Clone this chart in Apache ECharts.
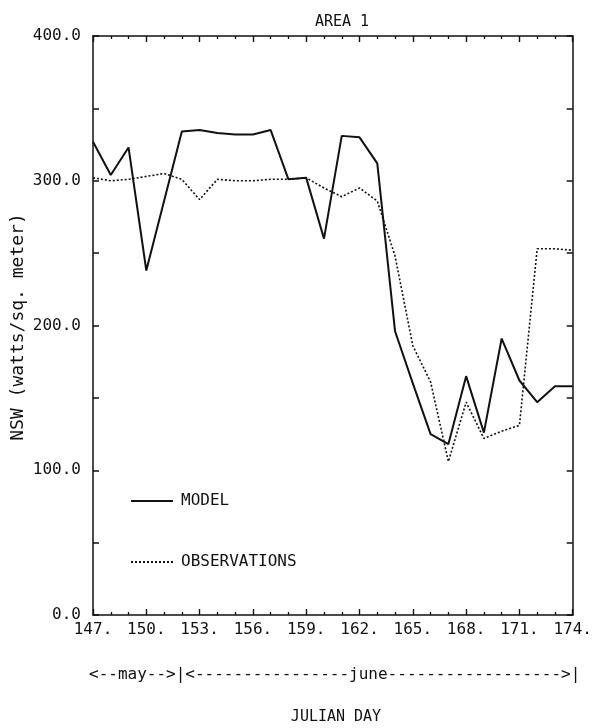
<!DOCTYPE html>
<html>
<head>
<meta charset="utf-8">
<script src="https://cdn.jsdelivr.net/npm/echarts@6/dist/echarts.min.js"></script>
<style>
html,body{margin:0;padding:0;background:#fff;}
#c{width:595px;height:728px;}
</style>
</head>
<body>
<div id="c"></div>
<script>
const days = [147,148,149,150,151,152,153,154,155,156,157,158,159,160,161,162,163,164,165,166,167,168,169,170,171,172,173,174];
const modelValues = [327,304,323,238,286,334,335,333,332,332,335,301,302,260,331,330,312,196,160,125,118,165,126,191,162,147,158,158];
const obsValues = [302,300,301,303,305,301,287,301,300,300,301,301,302,295,289,295,286,248,186,161,106,147,122,127,131,253,253,252];
const xTicks = {min:147, max:174, interval:3, minorSplit:3};
const yTicks = {min:0, max:400, interval:100, minorSplit:2};
const titleText = 'AREA 1';
const yName = 'NSW (watts/sq. meter)';
const xName = 'JULIAN DAY';
const monthText = '<--may-->|<----------------june------------------>|';

const FONT = '"DejaVu Sans Mono", "Liberation Mono", monospace';
const INK = '#111';

function pairs(vals){ return days.map((d,i)=>[d, vals[i]]); }

const axisLine = {show:true, onZero:false, lineStyle:{color:INK, width:1.5}};
function xAxis(pos, showLabel){
  return {
    type:'value', position:pos, min:xTicks.min, max:xTicks.max, interval:xTicks.interval,
    axisLine: axisLine,
    axisTick:{show:true, inside:true, length:6, lineStyle:{color:INK, width:1.4}},
    minorTick:{show:true, splitNumber:xTicks.minorSplit, length:3, lineStyle:{color:INK, width:1.3}},
    splitLine:{show:false}, minorSplitLine:{show:false},
    axisLabel:{show:showLabel, formatter:v=>v+'.', fontFamily:FONT, fontSize:16, color:INK, margin:7},
  };
}
function yAxis(pos, showLabel){
  return {
    type:'value', position:pos, min:yTicks.min, max:yTicks.max, interval:yTicks.interval,
    axisLine: axisLine,
    axisTick:{show:true, inside:true, length:6, lineStyle:{color:INK, width:1.5}},
    minorTick:{show:true, splitNumber:yTicks.minorSplit, length:6, lineStyle:{color:INK, width:1.5}},
    splitLine:{show:false}, minorSplitLine:{show:false},
    axisLabel:{show:showLabel, formatter:v=>v.toFixed(1), fontFamily:FONT, fontSize:16, color:INK, margin:12},
  };
}

const chart = echarts.init(document.getElementById('c'), null, {renderer:'canvas'});
chart.setOption({
  animation:false,
  backgroundColor:'#fff',
  grid:{left:93, right:15, top:36, bottom:113, containLabel:false},
  title:{text:titleText, left:337, textAlign:'center', top:10, textStyle:{fontFamily:FONT, fontSize:15, fontWeight:'normal', color:INK}},
  legend:{
    orient:'vertical', left:125, top:488, itemWidth:42, itemHeight:14, itemGap:45,
    itemStyle:{opacity:0},
    textStyle:{fontFamily:FONT, fontSize:16, color:INK, padding:[0,0,0,3]},
    data:['MODEL','OBSERVATIONS']
  },
  xAxis:[xAxis('bottom', true), xAxis('top', false)],
  yAxis:[yAxis('left', true), yAxis('right', false)],
  series:[
    {name:'MODEL', type:'line', xAxisIndex:0, yAxisIndex:0, data:pairs(modelValues), symbol:'none', lineStyle:{color:INK, width:2}, itemStyle:{color:INK}},
    {name:'OBSERVATIONS', type:'line', xAxisIndex:0, yAxisIndex:0, data:pairs(obsValues), symbol:'none', lineStyle:{color:INK, width:1.6, type:[2,2]}, itemStyle:{color:INK}}
  ],
  graphic:[
    {type:'text', left:89, top:667, style:{text:monthText, font:'16px '+FONT, fill:INK}},
    {type:'text', x:336, y:717, style:{text:xName, font:'15px '+FONT, fill:INK, align:'center', verticalAlign:'middle'}},
    {type:'text', x:18, y:327, rotation:Math.PI/2, style:{text:yName, font:'18px '+FONT, fill:INK, align:'center', verticalAlign:'middle'}}
  ]
});
</script>
</body>
</html>
